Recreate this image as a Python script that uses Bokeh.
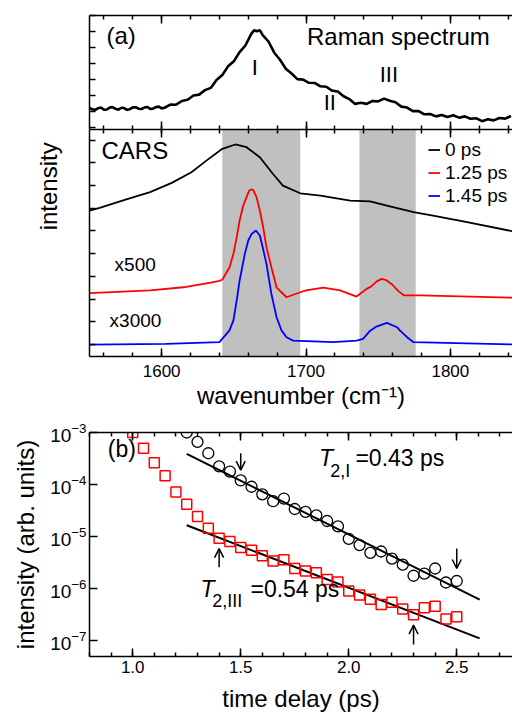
import math
from bokeh.plotting import figure
from bokeh.models import (Range1d, LinearAxis, SingleIntervalTicker, Label, Legend, LegendItem,
                          BoxAnnotation, Arrow, OpenHead, PrintfTickFormatter,
                          CustomJSTickFormatter)
from bokeh.layouts import column
from bokeh.embed import file_html
from bokeh.resources import INLINE

FONT = "Liberation Sans"

# ---------------- data ----------------
raman_wn = [1550, 1552, 1554, 1556, 1558, 1560, 1562, 1564, 1566, 1568, 1570, 1572, 1574, 1576,
            1578, 1580, 1582, 1584, 1586, 1588, 1590, 1592, 1594, 1596, 1598, 1600, 1602, 1606,
            1610, 1614, 1618, 1622, 1626, 1630, 1634, 1638, 1642, 1646, 1650, 1654, 1658,
            1662, 1664, 1666, 1668, 1670, 1674, 1678, 1682, 1686, 1690, 1694, 1698, 1702, 1706,
            1710, 1714, 1718, 1722, 1726, 1730, 1734, 1738, 1742, 1746, 1750, 1754, 1758, 1762,
            1766, 1770, 1774, 1778, 1782, 1786, 1790, 1794, 1798, 1802, 1806, 1810, 1814, 1818,
            1822, 1826, 1830, 1834, 1838, 1842]
raman_int = [1.25, 1.16, 1.12, 1.23, 1.28, 1.13, 1.15, 1.27, 1.30, 1.19, 1.14, 1.26, 1.24, 1.13,
             1.17, 1.28, 1.29, 1.20, 1.18, 1.27, 1.31, 1.19, 1.20, 1.30, 1.33, 1.22, 1.26,
             1.46, 1.45, 1.68, 1.76, 2.03, 2.08, 2.36, 2.50, 3.00, 3.30, 3.85, 4.16, 4.74, 5.15,
             5.86, 6.10, 6.04, 6.11, 5.80, 5.40, 4.70, 4.26, 3.70, 3.40, 3.05, 3.02, 2.82, 2.81,
             2.60, 2.57, 2.33, 2.27, 1.98, 1.80, 1.50, 1.57, 1.50, 1.68, 1.66, 1.83, 1.70, 1.60,
             1.33, 1.27, 1.05, 1.05, 0.85, 0.87, 0.72, 0.81, 0.68, 0.79, 0.64, 0.72, 0.57, 0.60,
             0.42, 0.54, 0.47, 0.62, 0.58, 0.74]

cars0_wn = [1550, 1557, 1575, 1592, 1607, 1620.6, 1631, 1642, 1651, 1658.8, 1668, 1677, 1684,
            1696, 1710, 1730.6, 1744.4, 1756, 1774.5, 1788, 1811.6, 1843]
cars0_int = [6.90, 7.02, 7.38, 7.71, 8.12, 8.59, 9.10, 9.62, 9.81, 9.69, 9.25, 8.52, 8.00,
             7.66, 7.56, 7.34, 7.30, 7.12, 6.83, 6.68, 6.39, 5.99]

cars125_wn = [1550, 1592, 1615, 1635, 1640, 1642, 1647, 1649.7, 1652, 1654, 1656.5, 1658.8,
              1660.6, 1662, 1663.4, 1665.7, 1668, 1670.3, 1672.6, 1676, 1679.6, 1683, 1686.5,
              1696, 1700, 1712, 1723.6, 1735, 1742, 1745, 1749, 1752.5, 1756, 1760, 1764, 1768,
              1779, 1843]
cars125_int = [3.26, 3.38, 3.52, 3.74, 3.80, 3.85, 4.40, 4.99, 5.73, 6.46, 7.12, 7.49, 7.78,
               7.83, 7.81, 7.49, 6.90, 6.17, 5.28, 4.40, 3.52, 3.30, 3.08, 3.30, 3.38, 3.50,
               3.38, 3.11, 3.45, 3.55, 3.78, 3.89, 3.82, 3.62, 3.35, 3.16, 3.16, 3.06]

cars145_wn = [1550, 1603, 1640, 1647, 1649.7, 1652, 1654, 1657.6, 1660, 1662.3, 1665.3, 1668,
              1670, 1672.6, 1676, 1679.6, 1683, 1686.5, 1691, 1719, 1735, 1739.5, 1744, 1748.8,
              1756, 1763, 1765, 1770, 1774.5, 1843]
cars145_int = [0.99, 1.03, 1.10, 1.62, 2.06, 2.94, 3.82, 4.99, 5.58, 5.87, 6.02, 5.80, 5.28,
               4.55, 3.23, 2.20, 1.62, 1.32, 1.17, 1.10, 1.17, 1.25, 1.58, 1.79, 1.95, 1.76,
               1.62, 1.32, 1.10, 1.00]

band_left = [1642, 1737]
band_right = [1696, 1776]

delay_I = [1.25, 1.30, 1.35, 1.40, 1.45, 1.50, 1.55, 1.60, 1.65, 1.70, 1.75, 1.80, 1.85, 1.90,
           1.95, 2.00, 2.05, 2.10, 2.15, 2.20, 2.25, 2.30, 2.35, 2.40, 2.45, 2.50]
signal_I = [1.0e-3, 6.6e-4, 4.0e-4, 2.24e-4, 1.78e-4, 1.2e-4, 9.1e-5, 6.5e-5, 4.8e-5, 5.4e-5,
            3.4e-5, 3.0e-5, 2.57e-5, 2.0e-5, 1.58e-5, 9.1e-6, 6.9e-6, 4.9e-6, 5.2e-6, 3.8e-6,
            2.9e-6, 1.78e-6, 1.95e-6, 2.45e-6, 1.32e-6, 1.41e-6]
delay_III = [1.00, 1.05, 1.10, 1.15, 1.20, 1.25, 1.30, 1.35, 1.40, 1.45, 1.50, 1.55, 1.60, 1.65,
             1.70, 1.75, 1.80, 1.85, 1.90, 1.95, 2.00, 2.05, 2.10, 2.15, 2.20, 2.25, 2.30, 2.35,
             2.40, 2.45, 2.50]
signal_III = [1.0e-3, 5.0e-4, 2.63e-4, 1.48e-4, 7.2e-5, 4.2e-5, 2.45e-5, 1.45e-5, 9.3e-6, 8.1e-6,
              6.2e-6, 5.5e-6, 4.3e-6, 3.4e-6, 3.6e-6, 2.45e-6, 2.2e-6, 2.04e-6, 1.51e-6, 1.35e-6,
              9.1e-7, 7.6e-7, 6.3e-7, 5.0e-7, 5.5e-7, 4.1e-7, 3.16e-7, 4.3e-7, 4.6e-7, 2.63e-7, 2.9e-7]
fit_x = [1.25, 2.606]
fit_I = [3.9e-4, 6.2e-7]
fit_III = [1.66e-5, 1.12e-7]

arrow_x = [1.5, 2.5, 1.4, 2.3]
arrow_from = [4.0e-4, 5.9e-6, 2.6e-6, 8.5e-8]
arrow_to = [1.9e-4, 2.45e-6, 5.9e-6, 2.0e-7]

legend_labels = ["0 ps", "1.25 ps", "1.45 ps"]

# ---------------- helpers ----------------
W = 512
LEFT = 89
BLANK = CustomJSTickFormatter(code="return ''")


def style_axis(ax, labels=True, size="17px"):
    ax.axis_line_width = 1.5
    ax.major_tick_in = 8
    ax.major_tick_out = 0
    ax.minor_tick_in = 4
    ax.minor_tick_out = 0
    ax.major_tick_line_width = 1.5
    ax.minor_tick_line_width = 1.5
    ax.major_label_text_font = FONT
    ax.axis_label_text_font = FONT
    ax.axis_label_text_font_style = "normal"
    ax.axis_label_text_color = "black"
    ax.major_label_text_color = "black"
    if labels:
        ax.major_label_text_font_size = size
    else:
        ax.formatter = BLANK
        ax.major_label_text_font_size = "0px"
        ax.major_label_standoff = 0


def base_fig(height, xr, yr, top, bottom, y_type="linear"):
    p = figure(width=W, height=height, x_range=xr, y_range=yr, y_axis_type=y_type,
               output_backend="svg", toolbar_location=None, min_border_left=LEFT,
               min_border_right=0, min_border_top=top, min_border_bottom=bottom)
    p.outline_line_color = None
    p.grid.visible = False
    p.background_fill_color = "white"
    p.border_fill_color = "white"
    return p


def label(p, x, y, text, size, **kw):
    p.add_layout(Label(x=x, y=y, text=text, text_font=FONT, text_font_size=size,
                       text_color="black", **kw))


wn_range = Range1d(1550, 1843.05)

# ---------------- (a) Raman ----------------
p1 = base_fig(129, wn_range, Range1d(-0.1, 7.025), 15, 0)
p1.xaxis.ticker = SingleIntervalTicker(interval=100, num_minor_ticks=5)
p1.yaxis.ticker = SingleIntervalTicker(interval=1, num_minor_ticks=0)
style_axis(p1.xaxis[0], labels=False)
style_axis(p1.yaxis[0], labels=False)
p1.yaxis.major_tick_in = 6
top1 = LinearAxis(ticker=SingleIntervalTicker(interval=100, num_minor_ticks=5))
style_axis(top1, labels=False)
p1.add_layout(top1, "above")
p1.line(raman_wn, raman_int, line_color="black", line_width=2.6)
label(p1, 1561.8, 4.94, "(a)", "24px")
label(p1, 1700.7, 4.88, "Raman spectrum", "24px")
label(p1, 1664.6, 3.02, "I", "22px", text_align="center")
label(p1, 1716.5, 0.78, "II", "22px", text_align="center")
label(p1, 1757.4, 2.54, "III", "22px", text_align="center")

# ---------------- CARS ----------------
p2 = base_fig(291, wn_range, Range1d(0.47, 10.47), 0, 64)
p2.xaxis.ticker = SingleIntervalTicker(interval=100, num_minor_ticks=5)
p2.yaxis.ticker = SingleIntervalTicker(interval=1, num_minor_ticks=0)
style_axis(p2.xaxis[0], labels=True)
style_axis(p2.yaxis[0], labels=False)
p2.yaxis.major_tick_in = 6
p2.xaxis.major_label_standoff = 8
p2.xaxis.axis_label = "wavenumber (cm\u207b\u00b9)"
p2.xaxis.axis_label_text_font_size = "24px"
p2.xaxis.axis_label_standoff = 2
# the "intensity" label is centred on both upper panels: pad its start with no-break spaces
p2.yaxis.axis_label = "\u00a0" * 17 + "intensity"
p2.yaxis.axis_label_text_font_size = "24px"
p2.yaxis.axis_label_standoff = 28
top2 = LinearAxis(ticker=SingleIntervalTicker(interval=100, num_minor_ticks=5))
style_axis(top2, labels=False)
p2.add_layout(top2, "above")
for l, r in zip(band_left, band_right):
    p2.add_layout(BoxAnnotation(left=l, right=r, fill_color="#c0c0c0", fill_alpha=1.0,
                                line_alpha=0, level="underlay"))
r0 = p2.line(cars0_wn, cars0_int, line_color="black", line_width=1.8)
r1 = p2.line(cars125_wn, cars125_int, line_color="#ff0000", line_width=1.8)
r2 = p2.line(cars145_wn, cars145_int, line_color="#0000ff", line_width=1.8)
leg = Legend(items=[LegendItem(label=legend_labels[0], renderers=[r0]),
                    LegendItem(label=legend_labels[1], renderers=[r1]),
                    LegendItem(label=legend_labels[2], renderers=[r2])],
             location=(339, 149), glyph_width=12, glyph_height=23, label_height=23,
             spacing=0, padding=0, margin=0, label_standoff=5,
             label_text_font=FONT, label_text_font_size="19px", label_text_color="black",
             border_line_color=None, background_fill_alpha=0)
p2.add_layout(leg)
label(p2, 1558.3, 8.96, "CARS", "24px")
label(p2, 1567.4, 4.04, "x500", "19px")
label(p2, 1563.9, 1.60, "x3000", "19px")

# ---------------- (b) decay ----------------
p3 = base_fig(294, Range1d(0.8, 2.758), Range1d(10 ** -7.3, 1e-3), 12, 55, y_type="log")
p3.xaxis.ticker = SingleIntervalTicker(interval=0.5, num_minor_ticks=5)
p3.xaxis.formatter = PrintfTickFormatter(format="%.1f")
style_axis(p3.xaxis[0], labels=True)
style_axis(p3.yaxis[0], labels=True, size="19px")
p3.yaxis.minor_tick_line_color = None
p3.xaxis.major_label_standoff = 4
p3.yaxis.major_label_standoff = 3
p3.xaxis.axis_label = "time delay (ps)"
p3.xaxis.axis_label_text_font_size = "24px"
p3.xaxis.axis_label_standoff = 9
p3.yaxis.axis_label = "intensity (arb. units)"
p3.yaxis.axis_label_text_font_size = "24px"
p3.yaxis.axis_label_standoff = 8
top3 = LinearAxis(ticker=SingleIntervalTicker(interval=0.5, num_minor_ticks=5))
style_axis(top3, labels=False)
p3.add_layout(top3, "above")

p3.line(fit_x, fit_I, line_color="black", line_width=2)
p3.line(fit_x, fit_III, line_color="black", line_width=2)
p3.scatter(delay_I, signal_I, marker="circle", size=11, fill_color=None, line_color="black",
           line_width=1.3)
p3.scatter(delay_III, signal_III, marker="square", size=10, fill_color=None, line_color="#ff0000",
           line_width=1.5)
for ax_, a0, a1 in zip(arrow_x, arrow_from, arrow_to):
    p3.add_layout(Arrow(end=OpenHead(size=9, line_width=1.5), x_start=ax_, y_start=a0,
                        x_end=ax_, y_end=a1, line_width=1.5))

label(p3, 0.885, 10 ** -3.56, "(b)", "23px")
label(p3, 1.862, 10 ** -3.748, "T", "23px", text_font_style="italic")
label(p3, 1.914, 10 ** -3.937, "2,I", "18px")
label(p3, 2.031, 10 ** -3.748, "=0.43 ps", "23px")
label(p3, 1.314, 10 ** -6.245, "T", "23px", text_font_style="italic")
label(p3, 1.368, 10 ** -6.42, "2,III", "18px")
label(p3, 1.545, 10 ** -6.245, "=0.54 ps", "23px")

layout = column(p1, p2, p3)
open("out.html", "w").write(file_html(layout, INLINE))
